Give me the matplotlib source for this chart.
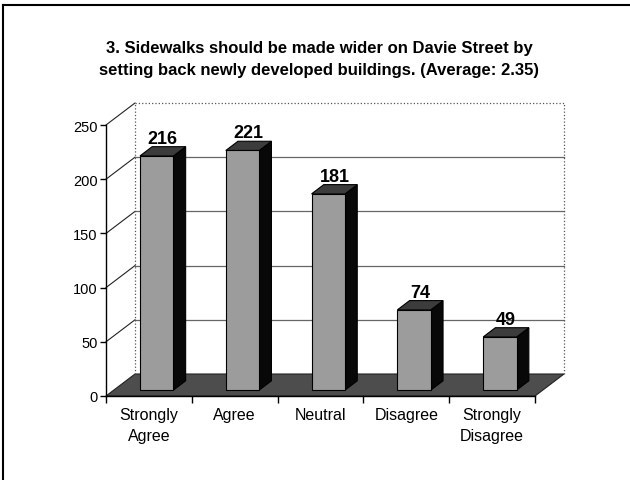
import matplotlib
matplotlib.use("Agg")
import matplotlib.pyplot as plt
from matplotlib.patches import Polygon
from matplotlib.lines import Line2D

categories = ["Strongly\nAgree", "Agree", "Neutral", "Disagree", "Strongly\nDisagree"]
values = [216, 221, 181, 74, 49]
yticks = [0, 50, 100, 150, 200, 250]
title = ("3. Sidewalks should be made wider on Davie Street by\n"
         "setting back newly developed buildings. (Average: 2.35)")

plt.rcParams['font.family'] = ['Liberation Sans', 'DejaVu Sans']

W, H = 630, 481
fig = plt.figure(figsize=(W / 100, H / 100), dpi=100)

# plot area in pixels (front plane)
x_left, x_right = 106, 535
y_zero, y_top = 397, 126
ax = fig.add_axes([x_left / W, (H - y_zero) / H, (x_right - x_left) / W, (y_zero - y_top) / H])
n = len(categories)
ymax = yticks[-1]
ax.set_xlim(0, n)
ax.set_ylim(0, ymax)
ax.patch.set_alpha(0)

# depth offsets in data units
DX = 29 / ((x_right - x_left) / n)
DY = 22 / ((y_zero - y_top) / ymax)

for s in ['top', 'right']:
    ax.spines[s].set_visible(False)
ax.spines['left'].set_linewidth(1.0)
ax.spines['bottom'].set_visible(False)
ax.set_yticks(yticks)
ax.tick_params(axis='y', length=4, width=1, labelsize=10.5, pad=2)
ax.set_xticks(range(n + 1))
ax.set_xticklabels([])
ax.set_xticks([i + 0.5 for i in range(n)], minor=True)
ax.set_xticklabels(categories, minor=True, fontsize=11.5, linespacing=1.5)
ax.tick_params(axis='x', which='major', length=5, width=1, direction='out')
ax.tick_params(axis='x', which='minor', length=0, pad=8)

# floor
floor = Polygon([(0, 0), (n, 0), (n + DX, DY), (DX, DY)], closed=True,
                facecolor='#4d4d4d', edgecolor='#222222', lw=0.8, zorder=1, clip_on=False)
ax.add_patch(floor)
ax.add_line(Line2D([0, n], [0, 0], color='black', lw=1.0, zorder=6, clip_on=False))

# walls and gridlines
for t in yticks[1:]:
    ax.add_line(Line2D([0, DX], [t, t + DY], color='#222222', lw=0.8, zorder=2, clip_on=False))
    ls = ':' if t == ymax else '-'
    col = '#555555' if t == ymax else '#666666'
    ax.add_line(Line2D([DX, n + DX], [t + DY, t + DY], color=col, lw=0.9, ls=ls,
                       zorder=2, clip_on=False))
for xv in [DX, n + DX]:
    ax.add_line(Line2D([xv, xv], [DY, ymax + DY], color='#555555', lw=0.9, ls=':',
                       zorder=2, clip_on=False))

# bars
bw = 0.39
f = 0.27
d = 0.42
for i, v in enumerate(values):
    xc = i + 0.5 + f * DX
    x0, x1 = xc - bw / 2, xc + bw / 2
    yb = f * DY
    yt = v + f * DY
    ddx, ddy = d * DX, d * DY
    side = Polygon([(x1, yb), (x1 + ddx, yb + ddy), (x1 + ddx, yt + ddy), (x1, yt)],
                   facecolor='#080808', edgecolor='black', lw=0.8, zorder=4, clip_on=False)
    top = Polygon([(x0, yt), (x1, yt), (x1 + ddx, yt + ddy), (x0 + ddx, yt + ddy)],
                  facecolor='#3c3c3c', edgecolor='black', lw=0.8, zorder=4, clip_on=False)
    front = Polygon([(x0, yb), (x1, yb), (x1, yt), (x0, yt)],
                    facecolor='#9c9c9c', edgecolor='black', lw=0.8, zorder=5, clip_on=False)
    for p in (side, top, front):
        ax.add_patch(p)
    ax.text(xc + ddx / 2, yt + ddy, str(v), ha='center', va='bottom',
            fontsize=13, fontweight='bold', zorder=7, clip_on=False)

fig.text(319 / W, 1 - 41 / H, title, ha='center', va='top', fontsize=12,
         fontweight='bold', linespacing=1.6)

# outer frame
fig.add_artist(Line2D([3 / W, 1], [1 - 6 / H, 1 - 6 / H], transform=fig.transFigure,
                      color='black', lw=1.5))
fig.add_artist(Line2D([3 / W, 3 / W], [0, 1 - 6 / H], transform=fig.transFigure,
                      color='black', lw=1.5))

fig.savefig("out.png", dpi=100, facecolor='white')
